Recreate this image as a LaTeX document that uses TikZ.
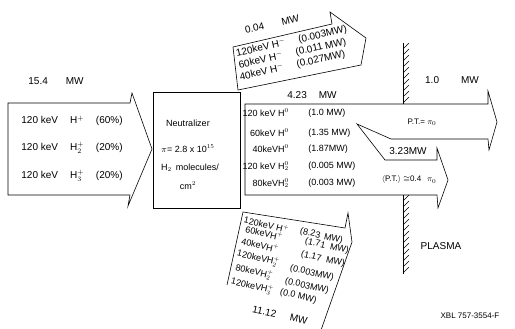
\documentclass[tikz,border=0pt]{standalone}
\usepackage{fontspec}
\setmainfont{Liberation Sans}
\usetikzlibrary{positioning}
\newcommand{\lbl}{\fontsize{9}{10}\selectfont}
\newcommand{\lrg}{\fontsize{10}{11}\selectfont}
\newcommand{\sml}{\fontsize{8}{9}\selectfont}

\begin{document}
\begin{tikzpicture}[x=1pt, y=-1pt, line width=0.6pt,
    every node/.style={font=\lbl, inner sep=1pt},
    upline/.style={rotate=12.5, anchor=west, font=\lrg},
    lowline/.style={rotate=-13, anchor=west}]
  \useasboundingbox (0,0) rectangle (515,329);
  % --- incoming ion beam ---------------------------------------------
  \draw (8,103) -- (130,103) -- (132,93) -- (152,149) -- (128,206) -- (130,195) -- (8,195) -- cycle;
  \node[font=\lrg] (pin) at (56,81) {15.4\hspace{18pt}MW};
  \node[font=\lrg] (in1) at (72,121) {120 keV\hspace{12pt}H$^+$\hspace{12pt}(60\%)};
  \node[font=\lrg] (in2) at (72,148) {120 keV\hspace{12pt}H$_2^+$\hspace{12pt}(20\%)};
  \node[font=\lrg] (in3) at (72,176) {120 keV\hspace{12pt}H$_3^+$\hspace{12pt}(20\%)};
  % --- neutralizer ---------------------------------------------------
  \draw (153,92) rectangle (240,208);
  \node (neu) at (188,123) {Neutralizer};
  \node (thk) at (188,149) {$\pi$= 2.8 x 10$^{15}$};
  \node (mol) at (190,168) {H$_2$\hspace{4pt}molecules/};
  \node (cm)  at (188,186) {cm$^2$};
  % --- negative ions (deflected up) ----------------------------------
  \draw (233,47) -- (332,24) -- (330,12) -- (366,38) -- (361,65) -- (238,90) -- cycle;
  \node[rotate=12.5, font=\lrg] (pneg) at (272,24) {0.04\hspace{18pt}MW};
  \node[upline] (ng1) at (235,54) {120keV H$^-$\hspace{13pt}(0.003MW)};
  \node[upline] (ng2) at (236,66) {\,60keV H$^-$\hspace{13pt}(0.011 MW)};
  \node[upline] (ng3) at (237,78) {\,40keV H$^-$\hspace{13pt}(0.027MW)};
  % --- neutral beam into the plasma ----------------------------------
  \draw (245,104) -- (488,104) -- (488,91) -- (497,122) -- (489,150) -- (488,139)
     -- (391,139) -- (357,124) -- (385,160) -- (437,160) -- (437,148) -- (448,180)
     -- (438,208) -- (437,195) -- (245,195) -- cycle;
  \node[font=\lrg] (pneu) at (312,95) {4.23\hspace{12pt}MW};
  \node[anchor=east] (h1) at (290,113) {120 keV H$^0$};
  \node[anchor=east] (h2) at (290,133) {60keV H$^0$};
  \node[anchor=east] (h3) at (290,149) {40keVH$^0$};
  \node[anchor=east] (h4) at (290,166) {120 keV H$_2^0$};
  \node[anchor=east] (h5) at (290,183) {80keVH$_2^0$};
  \node[anchor=west] (v1) at (307,113) {(1.0 MW)};
  \node[anchor=west] (v2) at (307,133) {(1.35 MW)};
  \node[anchor=west] (v3) at (307,149) {(1.87MW)};
  \node[anchor=west] (v4) at (307,166) {(0.005 MW)};
  \node[anchor=west] (v5) at (307,183) {(0.003 MW)};
  \node[font=\lrg] (pone) at (452,80) {1.0\hspace{22pt}MW};
  \node[font=\sml] (pt1) at (422,122) {P.T.= $\pi_0$};
  \node[font=\lrg] (pthr) at (408,151) {3.23MW};
  \node[font=\sml] (pt2) at (409,180) {$\langle$P.T.$\rangle\cong$0.4\hspace{6pt}$\pi_0$};
  % --- wall ----------------------------------------------------------
  \draw (403,43) -- (403,104);
  \foreach \y in {49,55,...,103} \draw[line width=0.4pt] (403,\y) -- (409,\y-6);
  \draw (403,195) -- (403,274);
  \foreach \y in {201,207,...,274} \draw[line width=0.4pt] (403,\y) -- (409,\y-6);
  \node[font=\lrg] (pla) at (441,246) {PLASMA};
  % --- positive ions (deflected down) --------------------------------
  \draw (227,285) -- (243,212) -- (345,228) -- (348,213) -- (352,242) -- (320,333);
  \node[lowline] (po1) at (243,219) {120keV H$^+$};
  \node[lowline] (po2) at (243,228) {\,60keVH$^+$};
  \node[lowline] (po3) at (239,240) {\,40keVH$^+$};
  \node[lowline] (po4) at (236,253) {120keVH$_2^+$};
  \node[lowline] (po5) at (233,267) {\,80keVH$_2^+$};
  \node[lowline] (po6) at (230,281) {120keVH$_3^+$};
  \node[lowline] (pv1) at (299,231) {(8.23\hspace{4pt}MW)};
  \node[lowline] (pv2) at (304,241) {(1.71\hspace{5pt}MW)};
  \node[lowline] (pv3) at (300,254) {(1.17\hspace{5pt}MW)};
  \node[lowline] (pv4) at (289,268) {(0.003MW)};
  \node[lowline] (pv5) at (284,281) {(0.003MW)};
  \node[lowline] (pv6) at (279,292) {(0.0 MW)};
  \node[rotate=-12, font=\lrg] (ppos) at (280,315) {11.12\hspace{14pt}MW};
  % --- figure number -------------------------------------------------
  \node[font=\sml] (fig) at (470,316) {XBL 757-3554-F};
\end{tikzpicture}
\end{document}
